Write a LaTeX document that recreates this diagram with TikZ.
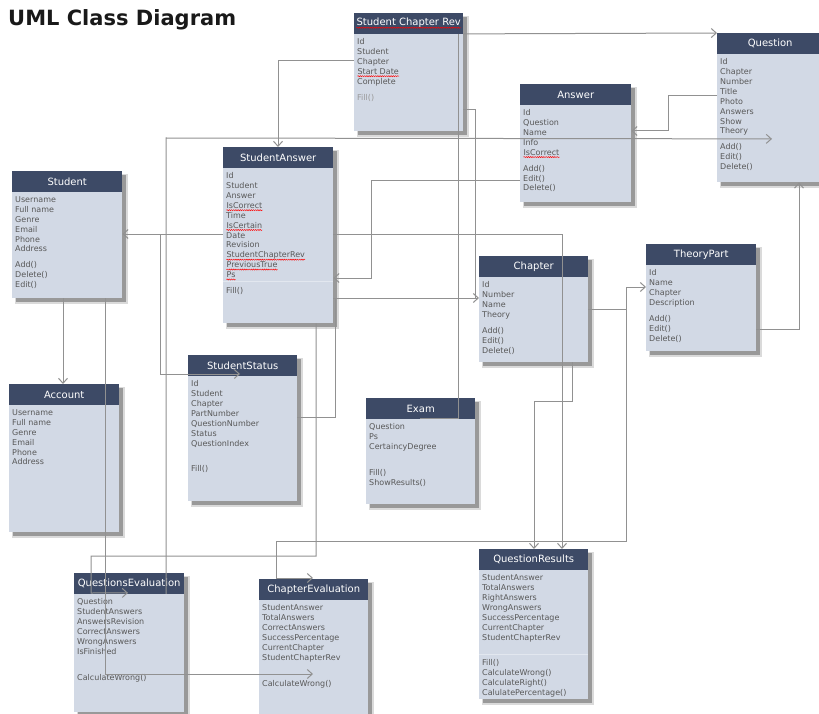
\documentclass[tikz,border=0pt]{standalone}
\usepackage{fontspec}
\setmainfont{DejaVu Sans}
\usetikzlibrary{arrows.meta,calc,decorations.pathmorphing}
\definecolor{hdr}{RGB}{61,74,102}
\definecolor{bodyc}{RGB}{210,217,229}
\definecolor{shad}{RGB}{110,110,110}
\definecolor{txt}{RGB}{88,88,88}
\definecolor{lnc}{RGB}{145,145,145}
\definecolor{sepc}{RGB}{226,231,239}
\newcommand\redwave[1]{\tikz[baseline=(w.base)]{\node[inner sep=0pt,anchor=base west,minimum width=0pt,minimum height=0pt] (w) at (0,0) {#1};\draw[red,line width=0.45pt,decorate,decoration={snake,amplitude=0.55pt,segment length=2.2pt}] ([yshift=-1.8pt]w.base west) -- ([yshift=-1.8pt]w.base east);}}
\tikzset{
  bodybox/.style={anchor=north west,fill=bodyc,inner sep=0pt,draw=none},
  hdrbox/.style={anchor=north west,fill=hdr,inner sep=0pt,minimum height=20.5pt,text=white,font=\fontsize{10}{12}\selectfont},
  attrs/.style={anchor=north west,inner sep=0pt,align=left,text=txt,font=\fontsize{8}{9.9}\selectfont},
  conn/.style={draw=lnc,line width=1pt},
  arr/.style={-{Straight Barb[length=5pt,width=9pt]}},
  rarr/.style={{Straight Barb[length=5pt,width=9pt]}-},
  sepline/.style={draw=sepc,line width=0.8pt},
}
\newcommand\umlbox[7]{%
  \fill[shad,opacity=.25] (#2+3,#3+3) rectangle (#2+#4+6,#3+#5+6);
  \fill[shad,opacity=.6] (#2+4,#3+4) rectangle (#2+#4+4,#3+#5+4);
  \node[bodybox,minimum width=#4pt,minimum height=#5pt] (#1) at (#2,#3) {};
  \node[hdrbox,minimum width=#4pt] (#1-h) at (#1.north west) {#6};
  \node[attrs] (#1-t) at ($(#1-h.south west)+(3,4.5)$) {#7};
}
\begin{document}
\begin{tikzpicture}[x=1pt,y=-1pt]
\fill[white] (0,0) rectangle (819,714);
\useasboundingbox (0,0) rectangle (819,714);

\node[anchor=north west,inner sep=0pt,text={rgb,255:red,25;green,25;blue,25},font=\fontsize{21}{24}\selectfont\bfseries] (title) at (8,9) {UML Class Diagram};

\umlbox{scr}{354}{13}{109}{118}{\redwave{Student Chapter Rev}}{Id\\Student\\Chapter\\\redwave{Start Date}\\Complete\\[6pt]{\color{gray!80}Fill()}}
\umlbox{question}{717}{33}{106}{149}{Question}{Id\\Chapter\\Number\\Title\\Photo\\Answers\\Show\\Theory\\[6pt]Add()\\Edit()\\Delete()}
\umlbox{answer}{520}{84}{111}{118}{Answer}{Id\\Question\\Name\\Info\\\redwave{IsCorrect}\\[6pt]Add()\\Edit()\\Delete()}
\umlbox{sa}{223}{147}{110}{176}{StudentAnswer}{Id\\Student\\Answer\\\redwave{IsCorrect}\\Time\\\redwave{IsCertain}\\Date\\Revision\\\redwave{StudentChapterRev}\\\redwave{PreviousTrue}\\\redwave{Ps}\\[6pt]Fill()}
\umlbox{student}{12}{171}{110}{127}{Student}{Username\\Full name\\Genre\\Email\\Phone\\Address\\[6pt]Add()\\Delete()\\Edit()}
\umlbox{account}{9}{384}{110}{148}{Account}{Username\\Full name\\Genre\\Email\\Phone\\Address}
\umlbox{ss}{188}{355}{109}{146}{StudentStatus}{Id\\Student\\Chapter\\PartNumber\\QuestionNumber\\Status\\QuestionIndex\\[16pt]Fill()}
\umlbox{exam}{366}{398}{109}{106}{Exam}{Question\\Ps\\CertaincyDegree\\[16pt]Fill()\\ShowResults()}
\umlbox{chapter}{479}{256}{109}{106}{Chapter}{Id\\Number\\Name\\Theory\\[6pt]Add()\\Edit()\\Delete()}
\umlbox{tp}{646}{244}{110}{107}{TheoryPart}{Id\\Name\\Chapter\\Description\\[6pt]Add()\\Edit()\\Delete()}
\umlbox{qr}{479}{549}{109}{150}{QuestionResults}{StudentAnswer\\TotalAnswers\\RightAnswers\\WrongAnswers\\SuccessPercentage\\CurrentChapter\\StudentChapterRev\\[16pt]Fill()\\CalculateWrong()\\CalculateRight()\\CalulatePercentage()}
\umlbox{qe}{74}{573}{110}{139}{QuestionsEvaluation}{Question\\StudentAnswers\\AnswersRevision\\CorrectAnswers\\WrongAnswers\\IsFinished\\[16pt]CalculateWrong()}
\umlbox{ce}{259}{579}{109}{145}{ChapterEvaluation}{StudentAnswer\\TotalAnswers\\CorrectAnswers\\SuccessPercentage\\CurrentChapter\\StudentChapterRev\\[16pt]CalculateWrong()}

% faint separators between fields and methods
\draw[sepline] (sa.west |- 0,281) -- (sa.east |- 0,281);
\draw[sepline] (qr.west |- 0,654) -- (qr.east |- 0,654);

% connectors
\draw[conn,arr] (scr-h.south east) -- (question.north west);
\draw[conn,arr] (scr.west |- 0,61) -| (sa.north -| 278,0);
\draw[conn,arr] (qe-h.south -| 166,0) -- (166,138) -- ($(question-h.south west)+(55,85)$);
\draw[conn,rarr] (student.east |- 0,234) -- (sa.west |- 0,234);
\draw[conn,arr] (sa.east |- 0,234) -| (qr.north -| 562,0);
\draw[conn,arr] (160,234) |- ($(ss-h.north west)+(52,19)$);
\draw[conn,arr] (answer.west |- 0,181) -| (371,278) -- (sa.east |- 0,278);
\draw[conn,arr] (sa.east |- 0,298) -- (chapter.west |- 0,298);
\draw[conn] (ss.east |- 0,417) -| (335,298);
\draw[conn] (scr.east |- 0,110) -| (475,298);
\draw[conn] (scr-h.south -| 458,0) |- (exam-h.south -| 420,0);
\draw[conn,arr] (chapter.east |- 0,309) -| (626,287) -- (tp.west |- 0,287);
\draw[conn,arr] (626,287) |- (276,541) -- (276,578) -- ($(ce.north west)+(54,-1)$);
\draw[conn,arr] (chapter.south -| 572,0) |- (534,401) -- (qr.north -| 534,0);
\draw[conn,arr] (tp.east |- 0,329) -| (question.south -| 799,0);
\draw[conn,arr] (question.west |- 0,96) -| (668,131) -- (answer.east |- 0,131);
\draw[conn,arr] (student.south -| 63,0) -- (account.north -| 63,0);
\draw[conn,arr] (student.south -| 105,0) |- ($(ce.north west)+(54,95)$);
\draw[conn,arr] (sa.south -| 316,0) |- (91,556) -- (91,593) -- ($(qe-h.south west)+(54,-1)$);
\end{tikzpicture}
\end{document}
